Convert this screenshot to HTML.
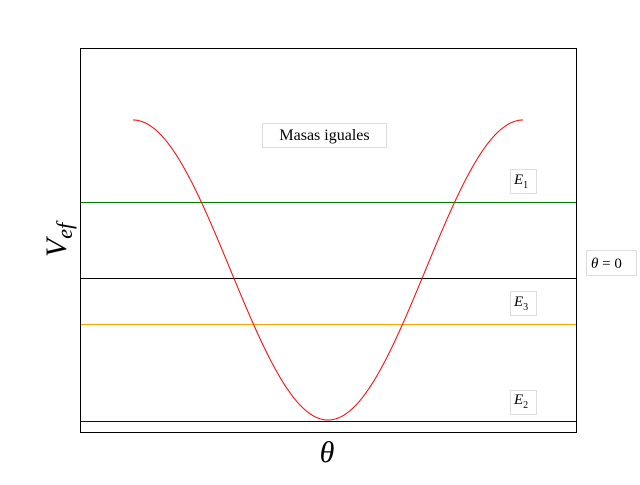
<!DOCTYPE html>
<html><head><meta charset="utf-8"><style>
body{margin:0;background:#fff;width:640px;height:480px;overflow:hidden}
text{font-family:"Liberation Serif","DejaVu Serif",serif}
</style></head><body>
<svg width="640" height="480">
<g id="plot"></g>
<rect x="80.5" y="48.5" width="496" height="384" fill="none" stroke="#000" stroke-width="1"/>
<g><rect x="262.5" y="123.5" width="124" height="24" fill="#fff" stroke="#ddd"/><text x="324.5" y="140" font-size="16" text-anchor="middle">Masas iguales</text></g>
<g><rect x="510.5" y="169.5" width="26" height="24" fill="#fff" stroke="#ddd"/><text x="514" y="184" font-size="15" font-style="italic">E<tspan font-size="10" dy="4" font-style="normal">1</tspan></text></g>
<g><rect x="510.5" y="291.5" width="26" height="24" fill="#fff" stroke="#ddd"/><text x="514" y="306" font-size="15" font-style="italic">E<tspan font-size="10" dy="4" font-style="normal">3</tspan></text></g>
<g><rect x="510.5" y="390.5" width="26" height="24" fill="#fff" stroke="#ddd"/><text x="514" y="404" font-size="15" font-style="italic">E<tspan font-size="10" dy="4" font-style="normal">2</tspan></text></g>
<g><rect x="586.5" y="250.5" width="50" height="25" fill="#fff" stroke="#ddd"/><text x="591" y="268" font-size="15"><tspan font-style="italic">θ</tspan> = 0</text></g>
<text x="327" y="462" font-size="30" font-style="italic" text-anchor="middle">θ</text>
<text transform="translate(66,240) rotate(-90)" font-size="30" font-style="italic" text-anchor="middle">V<tspan font-size="22" dy="6">ef</tspan></text>
</svg>
<script>
const levels=[0.453,-0.053,-0.36,-1.007];
const levelColors=["green","black","orange","navy"];
const levelNames=["line-e1","line-theta-zero","line-e3","line-e2"];
const thetaRange=[-Math.PI,Math.PI];
const x0=80,x1=576,y0=48,y1=432;
const xmin=-Math.PI-53/390*2*Math.PI, xmax=Math.PI+53/390*2*Math.PI;
const ymin=-1.08, ymax=1.48;
const X=v=>x0+(v-xmin)/(xmax-xmin)*(x1-x0);
const Y=v=>y1-(v-ymin)/(ymax-ymin)*(y1-y0);
const g=document.getElementById('plot');
const ns="http://www.w3.org/2000/svg";
levels.forEach((l,i)=>{
 const ln=document.createElementNS(ns,'line');
 const yy=Math.round(Y(l))+0.5;
 ln.setAttribute('x1',x0);ln.setAttribute('x2',x1);
 ln.setAttribute('y1',yy);ln.setAttribute('y2',yy);
 ln.setAttribute('stroke',levelColors[i]);ln.setAttribute('stroke-width','1');
 
 
 g.appendChild(ln);
});
let d="";
for(let i=0;i<=300;i++){const t=thetaRange[0]+(thetaRange[1]-thetaRange[0])*i/300;d+=(i?"L":"M")+X(t).toFixed(2)+","+Y(-Math.cos(t)).toFixed(2);}
const p=document.createElementNS(ns,'path');
p.setAttribute('d',d);p.setAttribute('fill','none');p.setAttribute('stroke','red');p.setAttribute('stroke-width','1');


g.appendChild(p);
</script>
</body></html>
